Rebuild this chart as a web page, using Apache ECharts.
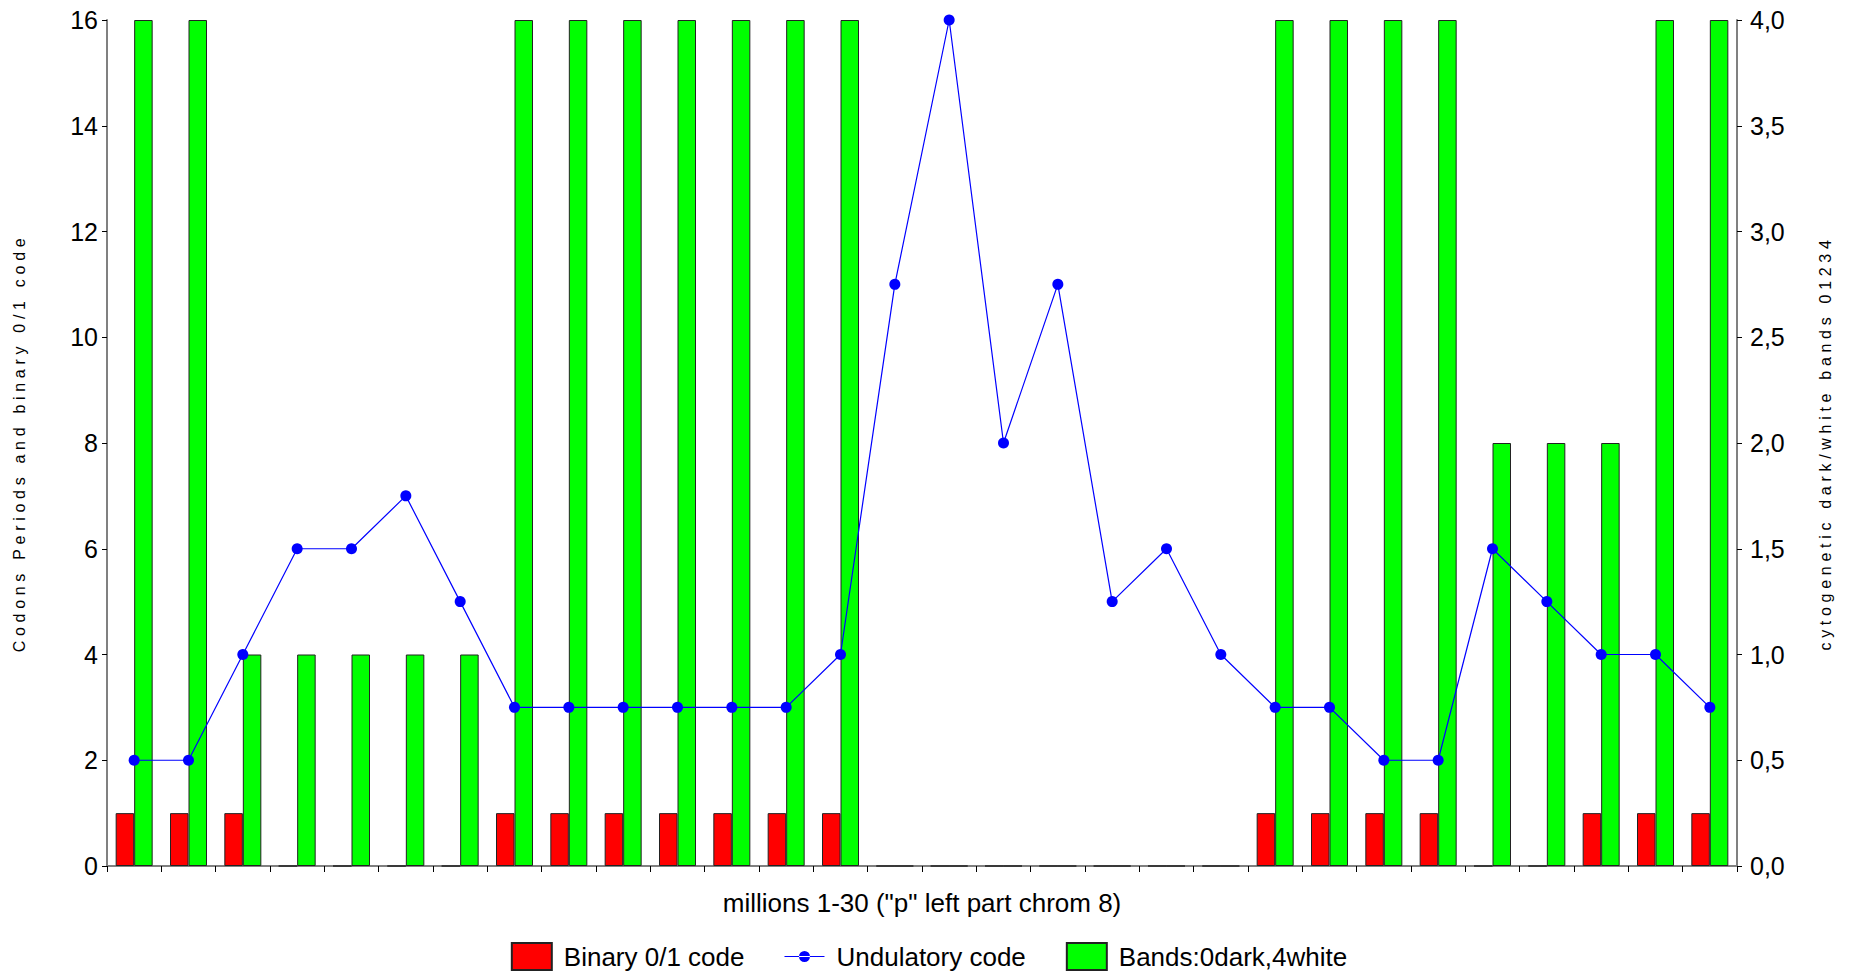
<!DOCTYPE html>
<html>
<head>
<meta charset="utf-8">
<script src="https://cdn.jsdelivr.net/npm/echarts@6/dist/echarts.min.js"></script>
<style>
html,body{margin:0;padding:0;background:#fff;}
#c{width:1858px;height:973px;}
</style>
</head>
<body>
<div id="c"></div>
<script>
const categories = Array.from({length:30},(_, i)=>String(i+1));
const binaryCode = [1,1,1,0,0,0,0,1,1,1,1,1,1,1,0,0,0,0,0,0,0,1,1,1,1,0,0,1,1,1];
const undulatoryCode = [2,2,4,6,6,7,5,3,3,3,3,3,3,4,11,16,8,11,5,6,4,3,3,2,2,6,5,4,4,3];
const bands = [4,4,1,1,1,1,1,4,4,4,4,4,4,4,0,0,0,0,0,0,0,4,4,4,4,2,2,2,4,4];
const leftTicks = [0,2,4,6,8,10,12,14,16];
const rightTicks = ['0,0','0,5','1,0','1,5','2,0','2,5','3,0','3,5','4,0'];

const FONT = 'Liberation Sans, Arial, sans-serif';
const LINE_ICON = 'path://M0,0M40,27M0,12.9h40v1.2h-40zM14.5,13.5a5.5,5.5 0 1,0 11,0a5.5,5.5 0 1,0 -11,0z';
const chart = echarts.init(document.getElementById('c'), null, {renderer:'svg'});
const option = {
  animation:false,
  backgroundColor:'#ffffff',
  grid:{left:107,right:121,top:20,bottom:107,outerBoundsMode:'none'},
  legend:{
    top:937, left:'center', padding:5,
    itemWidth:40, itemHeight:27, itemGap:40,
    textStyle:{fontFamily:FONT,fontSize:26,color:'#000',padding:[0,0,0,7]},
    data:[
      {name:'Binary 0/1 code', icon:'rect'},
      {name:'Undulatory code', icon:LINE_ICON, itemStyle:{color:'#0000ff',borderWidth:0}},
      {name:'Bands:0dark,4white', icon:'rect'}
    ]
  },
  xAxis:{
    type:'category', data:categories, boundaryGap:true,
    name:'millions 1-30 ("p" left part chrom 8)', nameLocation:'middle', nameGap:24,
    nameTextStyle:{fontFamily:FONT,fontSize:26,color:'#000'},
    axisLine:{lineStyle:{color:'#808080',width:2}},
    axisTick:{show:true,alignWithLabel:false,length:6,lineStyle:{color:'#000'}},
    axisLabel:{show:false},
    splitLine:{show:false}
  },
  yAxis:[{
    type:'value', min:0, max:16, interval:2, position:'left',
    name:'Codons Periods and binary 0/1 code', nameLocation:'middle', nameGap:80, nameRotate:90,
    nameTextStyle:{fontFamily:FONT,fontSize:16,color:'#000'},
    axisLine:{show:true,lineStyle:{color:'#808080',width:2}},
    axisTick:{show:true,length:5,lineStyle:{color:'#000'}},
    axisLabel:{fontFamily:FONT,fontSize:25,color:'#000',margin:9,
      formatter:v=>String(leftTicks[Math.round(v/2)])},
    splitLine:{show:false}
  },{
    type:'value', min:0, max:4, interval:0.5, position:'right',
    name:'cytogenetic dark/white bands 01234', nameLocation:'middle', nameGap:80, nameRotate:90,
    nameTextStyle:{fontFamily:FONT,fontSize:16,color:'#000'},
    axisLine:{show:true,lineStyle:{color:'#808080',width:2}},
    axisTick:{show:true,length:5,lineStyle:{color:'#000'}},
    axisLabel:{fontFamily:FONT,fontSize:25,color:'#000',margin:13,
      formatter:v=>rightTicks[Math.round(v*2)]},
    splitLine:{show:false}
  }],
  series:[{
    name:'Binary 0/1 code', type:'bar', yAxisIndex:0, data:binaryCode,
    barWidth:18.5, barGap:'0%',
    itemStyle:{color:'#ff0000',borderColor:'#222',borderWidth:1},
    z:2
  },{
    name:'Undulatory code', type:'line', yAxisIndex:0, data:undulatoryCode,
    symbol:'circle', symbolSize:11,
    lineStyle:{color:'#0000ff',width:1.2},
    itemStyle:{color:'#0000ff'},
    z:5
  },{
    name:'Bands:0dark,4white', type:'bar', yAxisIndex:1, data:bands,
    barWidth:18.5, barGap:'0%',
    itemStyle:{color:'#00ff00',borderColor:'#222',borderWidth:1},
    z:2
  }]
};
chart.setOption(option);
function spaceNames(){
  const names = ['Codons Periods and binary 0/1 code','cytogenetic dark/white bands 01234'];
  document.querySelectorAll('#c svg text').forEach(t=>{
    if(names.includes(t.textContent)){ t.style.letterSpacing='4.7px'; }
  });
}
spaceNames();
chart.on('finished', spaceNames);
setTimeout(spaceNames, 50);
</script>
</body>
</html>
